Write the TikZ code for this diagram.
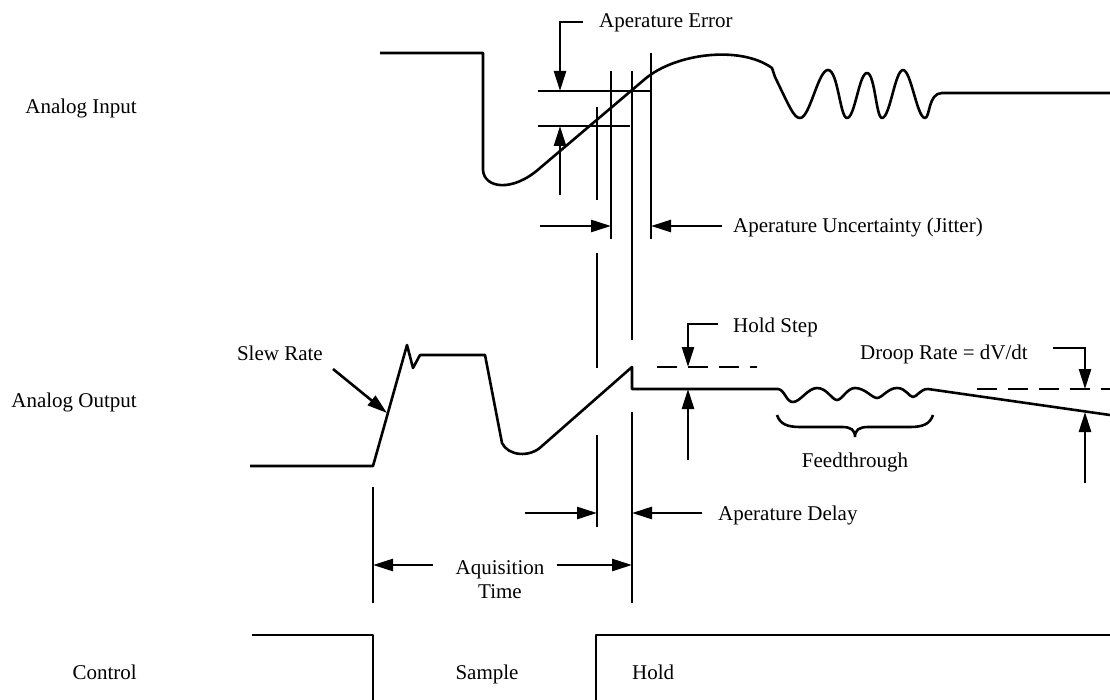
\documentclass[tikz,border=0pt]{standalone}
\usepackage{fontspec}
\setmainfont{Liberation Serif}
\usetikzlibrary{arrows.meta}
\begin{document}
\begin{tikzpicture}[x=1pt,y=-1pt,
  wave/.style={line width=2.6pt, line join=round},
  dimline/.style={line width=2.6pt},
  arr/.style={dimline, -{Triangle[length=20pt,width=12pt]}},
  dashln/.style={dimline, dash pattern=on 20pt off 11pt},
  lbl/.style={inner sep=0pt, font=\fontsize{21}{24}\selectfont}]
\useasboundingbox (0,0) rectangle (1110,700);

% ---- labels
\node[lbl, anchor=base east] (lin) at (137,114) {Analog Input};
\node[lbl, anchor=base east] (lout) at (137,407) {Analog Output};
\node[lbl, anchor=base east] (lctl) at (137,679) {Control};
\node[lbl, anchor=base west] (ape) at (599,28) {Aperature Error};
\node[lbl, anchor=base west] (apu) at (733,233) {Aperature Uncertainty (Jitter)};
\node[lbl, anchor=base east] (slew) at (323,360) {Slew Rate};
\node[lbl, anchor=base west] (hst) at (733,333) {Hold Step};
\node[lbl, anchor=base west] (drp) at (860,359) {Droop Rate = dV/dt};
\node[lbl, anchor=base] (fdt) at (855,467) {Feedthrough};
\node[lbl, anchor=base west] (apd) at (718,520) {Aperature Delay};
\node[lbl, anchor=base] (aq1) at (500,574) {Aquisition};
\node[lbl, anchor=base] (aq2) at (500,598) {Time};
\node[lbl, anchor=base] (smp) at (487,679) {Sample};
\node[lbl, anchor=base west] (hld) at (632,679) {Hold};

% ---- analog input waveform
\draw[wave] (380,53) -- (483,53) -- (483,170)
  .. controls (484,188) and (512,193) .. (540,168) -- (645,79)
  .. controls (675,53.5) and (740,45) .. (772,68) -- (775,77)
  .. controls (790,108) and (794,118) .. (800,118)
  .. controls (810,118) and (818,70) .. (828,70)
  .. controls (838,70) and (840,118) .. (847,118)
  .. controls (855,118) and (859,73) .. (867,73)
  .. controls (875,73) and (876,118) .. (882,118)
  .. controls (890,118) and (895,70) .. (903,70)
  .. controls (911,70) and (917,118) .. (925,118)
  .. controls (930,118) and (928,93) .. (942,93) -- (1110,93);

% ---- analog output waveform
\draw[wave] (250,466) -- (373,466) -- (407,345) -- (413,368) -- (420,355)
  -- (485,355) -- (502,443)
  .. controls (508,456) and (530,458) .. (542,446) -- (632,367) -- (632,389)
  -- (778,389)
  .. controls (785,390) and (786,402) .. (793,402)
  .. controls (800,402) and (808,388) .. (817,388)
  .. controls (827,388) and (832,400) .. (837,400)
  .. controls (842,400) and (847,388) .. (855,388)
  .. controls (865,388) and (872,398) .. (877,398)
  .. controls (882,398) and (888,388) .. (897,388)
  .. controls (906,388) and (909,397) .. (913,397)
  .. controls (917,397) and (920,389) .. (928,389) -- (1110,415);

% ---- control waveform
\draw[wave] (252,635) -- (373,635) -- (373,700);
\draw[wave] (596,700) -- (596,635) -- (1110,635);

% ---- aperture error construction
\coordinate (hu1) at (538,91);  \coordinate (hu2) at (651,91);
\coordinate (hl1) at (538,126); \coordinate (hl2) at (630,126);
\draw[dimline] (hu1) -- (hu2);
\draw[dimline] (hl1) -- (hl2);
\coordinate (eL) at (583,22); \coordinate (eC) at (560,22); \coordinate (eT) at (560,91);
\draw[arr] (eL) -- (eC) -- (eT);
\coordinate (eB) at (560,195); \coordinate (eU) at (560,126);
\draw[arr] (eB) -- (eU);

% vertical reference lines
\coordinate (v1a) at (597,107); \coordinate (v1b) at (597,200);
\coordinate (v1c) at (597,253); \coordinate (v1d) at (597,368);
\coordinate (v1e) at (597,435); \coordinate (v1f) at (597,527);
\draw[dimline] (v1a) -- (v1b) (v1c) -- (v1d) (v1e) -- (v1f);
\coordinate (v2a) at (611,71); \coordinate (v2b) at (611,239);
\draw[dimline] (v2a) -- (v2b);
\coordinate (v3a) at (632,71); \coordinate (v3b) at (632,340);
\coordinate (v3c) at (632,412); \coordinate (v3d) at (632,603);
\draw[dimline] (v3a) -- (v3b) (v3c) -- (v3d);
\coordinate (v4a) at (651,53); \coordinate (v4b) at (651,239);
\draw[dimline] (v4a) -- (v4b);
\coordinate (v5a) at (373,487); \coordinate (v5b) at (373,603);
\draw[dimline] (v5a) -- (v5b);

% jitter arrows
\coordinate (j1) at (540,226); \coordinate (j1t) at (611,226);
\coordinate (j2) at (722,226); \coordinate (j2t) at (651,226);
\draw[arr] (j1) -- (j1t);
\draw[arr] (j2) -- (j2t);

% aperture delay arrows
\coordinate (d1) at (525,513); \coordinate (d1t) at (597,513);
\coordinate (d2) at (702,513); \coordinate (d2t) at (632,513);
\draw[arr] (d1) -- (d1t);
\draw[arr] (d2) -- (d2t);

% acquisition arrows
\coordinate (q1) at (433,565); \coordinate (q1t) at (373,565);
\coordinate (q2) at (557,565); \coordinate (q2t) at (632,565);
\draw[arr] (q1) -- (q1t);
\draw[arr] (q2) -- (q2t);

% slew rate arrow
\coordinate (s1) at (333,369); \coordinate (s1t) at (387,413);
\draw[arr] (s1) -- (s1t);

% hold step
\coordinate (hsd1) at (657,367); \coordinate (hsd2) at (757,367);
\draw[dashln] (hsd1) -- (hsd2);
\coordinate (hsL) at (718,324); \coordinate (hsC) at (688,324); \coordinate (hsT) at (688,367);
\draw[arr] (hsL) -- (hsC) -- (hsT);
\coordinate (hsB) at (688,460); \coordinate (hsU) at (688,389);
\draw[arr] (hsB) -- (hsU);

% droop
\coordinate (dd1) at (977,389); \coordinate (dd2) at (1110,389);
\draw[dashln] (dd1) -- (dd2);
\coordinate (drL) at (1053,348); \coordinate (drC) at (1085,348); \coordinate (drT) at (1085,389);
\draw[arr] (drL) -- (drC) -- (drT);
\coordinate (drB) at (1085,483); \coordinate (drU) at (1085,412);
\draw[arr] (drB) -- (drU);

% feedthrough brace
\coordinate (bL) at (777,415); \coordinate (bM) at (855,437); \coordinate (bR) at (933,415);
\draw[dimline] (bL) .. controls (780,424) and (787,427) .. (800,427) -- (842,427)
  .. controls (851,427) and (855,430) .. (bM)
  .. controls (855,430) and (859,427) .. (868,427) -- (910,427)
  .. controls (923,427) and (930,424) .. (bR);
\end{tikzpicture}
\end{document}
